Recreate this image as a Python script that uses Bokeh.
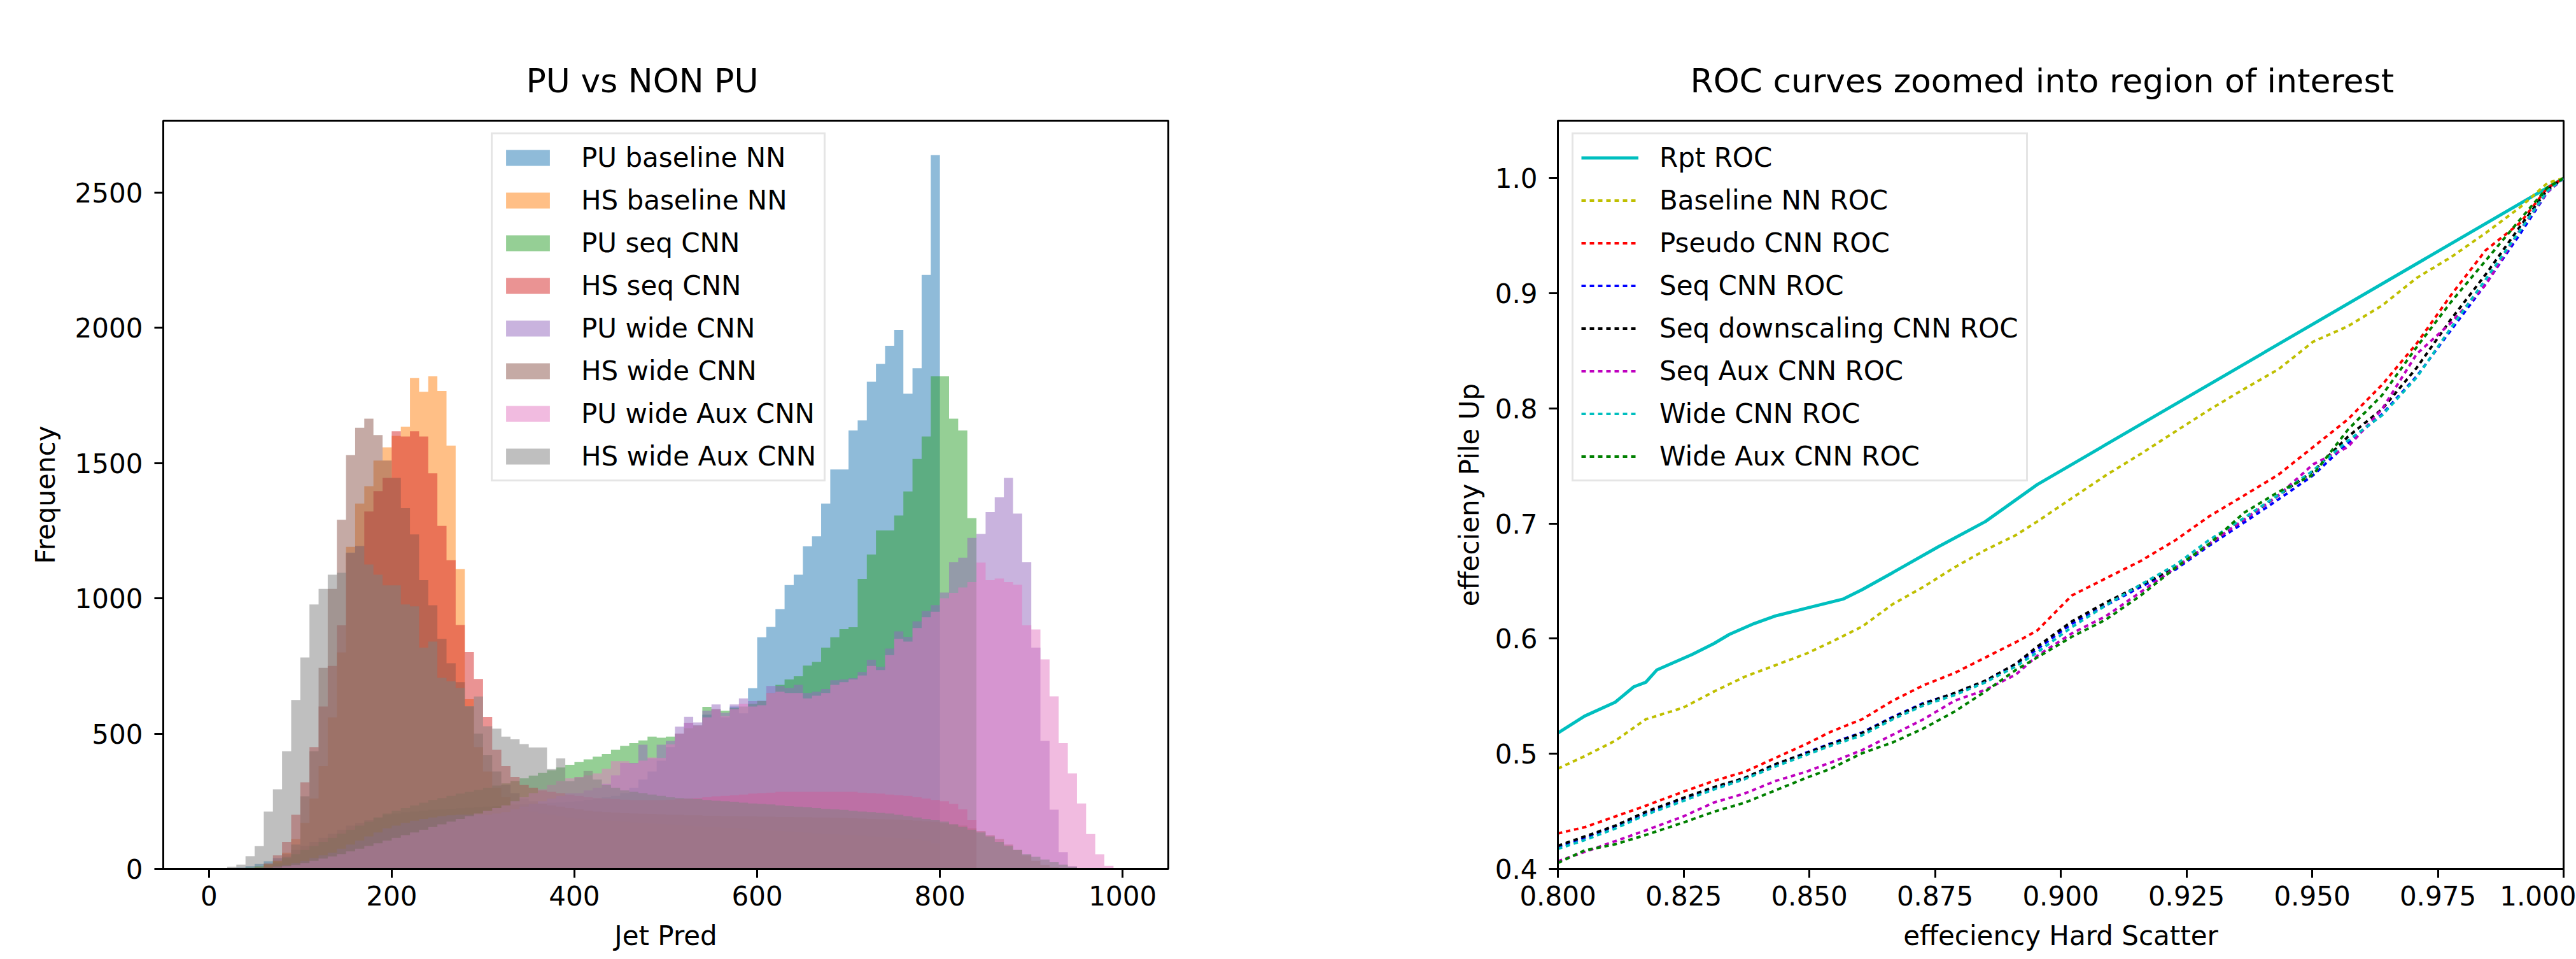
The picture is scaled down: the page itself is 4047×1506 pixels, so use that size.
from bokeh.plotting import figure
from bokeh.layouts import row
from bokeh.models import (Range1d, FixedTicker, NumeralTickFormatter, Legend,
                          LegendItem)
from bokeh.embed import file_html
from bokeh.resources import INLINE

FONT = "DejaVu Sans"

# ---------------- Histogram data (bins of width 10 on 0..1000) ----------------
BIN_EDGES = list(range(0, 1010, 10))
HIST_LABELS = ["PU baseline NN", "HS baseline NN", "PU seq CNN", "HS seq CNN",
               "PU wide CNN", "HS wide CNN", "PU wide Aux CNN", "HS wide Aux CNN"]
HIST_COLORS = ["#1f77b4", "#ff7f0e", "#2ca02c", "#d62728",
               "#9467bd", "#8c564b", "#e377c2", "#7f7f7f"]

pu_baseline_nn = [0, 0, 2, 5, 10, 18, 28, 40, 55, 70,
                  85, 100, 115, 130, 145, 160, 170, 180, 190, 200,
                  205, 210, 212, 215, 218, 220, 222, 224, 226, 228,
                  230, 232, 234, 236, 238, 240, 242, 244, 246, 248,
                  250, 255, 260, 265, 270, 280, 300, 330, 360, 400,
                  450, 500, 540, 530, 570, 590, 560, 600, 575, 668,
                  856, 894, 960, 1049, 1087, 1192, 1229, 1350, 1476, 1476,
                  1620, 1657, 1800, 1866, 1933, 1992, 1756, 1850, 2195, 2638,
                  0, 0, 0, 0, 0, 0, 0, 0, 0, 0,
                  0, 0, 0, 0, 0, 0, 0, 0, 0, 0]
hs_baseline_nn = [0, 0, 0, 0, 0, 5, 15, 30, 60, 110,
                  170, 260, 380, 560, 800, 1190, 1350, 1414, 1509, 1558,
                  1600, 1634, 1814, 1763, 1820, 1766, 1564, 1108, 627, 450,
                  360, 300, 265, 240, 225, 212, 205, 200, 195, 190,
                  186, 183, 180, 178, 176, 174, 172, 170, 168, 166,
                  164, 162, 160, 158, 156, 154, 152, 150, 148, 146,
                  144, 142, 140, 138, 136, 134, 132, 130, 128, 126,
                  124, 122, 120, 118, 116, 114, 112, 110, 105, 95,
                  0, 0, 0, 0, 0, 0, 0, 0, 0, 0,
                  0, 0, 0, 0, 0, 0, 0, 0, 0, 0]
pu_seq_cnn = [0, 0, 0, 2, 5, 10, 18, 28, 40, 55,
              70, 85, 100, 115, 130, 145, 160, 175, 190, 205,
              215, 225, 235, 245, 255, 262, 270, 278, 285, 292,
              300, 308, 316, 325, 335, 345, 355, 365, 375, 385,
              395, 405, 415, 425, 440, 455, 465, 475, 489, 485,
              489, 500, 520, 530, 599, 590, 585, 595, 600, 610,
              620, 650, 680, 700, 712, 751, 765, 818, 856, 886,
              893, 1072, 1162, 1251, 1251, 1306, 1395, 1515, 1598, 1820,
              1820, 1664, 1620, 1296, 0, 0, 0, 0, 0, 0,
              0, 0, 0, 0, 0, 0, 0, 0, 0, 0]
hs_seq_cnn = [0, 0, 0, 0, 0, 5, 20, 50, 100, 200,
              320, 450, 600, 750, 900, 1168, 1193, 1321, 1396, 1445,
              1617, 1598, 1617, 1598, 1462, 1268, 1141, 901, 801, 702,
              561, 440, 380, 340, 310, 300, 290, 285, 280, 275,
              270, 265, 262, 260, 258, 256, 255, 255, 255, 255,
              256, 258, 260, 262, 265, 268, 270, 272, 275, 278,
              280, 282, 285, 285, 285, 285, 285, 285, 285, 285,
              285, 282, 280, 278, 275, 272, 270, 265, 260, 255,
              250, 240, 220, 180, 0, 0, 0, 0, 0, 0,
              0, 0, 0, 0, 0, 0, 0, 0, 0, 0]
pu_wide_cnn = [0, 0, 0, 0, 0, 2, 5, 10, 15, 22,
               30, 40, 50, 60, 75, 90, 105, 120, 135, 150,
               160, 170, 178, 185, 190, 195, 198, 200, 200, 200,
               200, 205, 210, 220, 230, 240, 250, 260, 270, 280,
               280, 290, 300, 315, 346, 392, 392, 459, 408, 459,
               473, 526, 562, 541, 585, 608, 577, 608, 630, 620,
               622, 676, 676, 669, 680, 650, 655, 665, 697, 700,
               705, 728, 773, 747, 814, 878, 857, 915, 953, 975,
               1021, 1133, 1150, 1223, 1238, 1319, 1373, 1445, 1313, 1133,
               818, 473, 219, 62, 10, 0, 0, 0, 0, 0]
hs_wide_cnn = [0, 0, 0, 0, 0, 2, 8, 20, 45, 90,
               268, 435, 743, 1035, 1290, 1529, 1630, 1664, 1603, 1509,
               1445, 1333, 1236, 1067, 974, 850, 760, 690, 600, 500,
               420, 360, 310, 280, 260, 250, 240, 235, 230, 225,
               220, 215, 212, 210, 208, 206, 205, 204, 203, 202,
               200, 200, 198, 198, 196, 196, 195, 195, 194, 194,
               193, 193, 192, 192, 191, 191, 190, 190, 189, 188,
               187, 186, 185, 184, 183, 182, 180, 178, 176, 174,
               170, 165, 160, 150, 140, 125, 110, 90, 70, 50,
               30, 15, 6, 2, 0, 0, 0, 0, 0, 0]
pu_wide_aux_cnn = [0, 0, 0, 0, 0, 0, 2, 5, 10, 15,
                   22, 30, 38, 46, 55, 65, 75, 85, 95, 105,
                   115, 125, 135, 145, 155, 165, 175, 185, 195, 205,
                   215, 225, 235, 250, 265, 280, 295, 310, 325, 335,
                   340, 346, 353, 370, 398, 398, 390, 400, 412, 410,
                   460, 500, 540, 530, 560, 590, 565, 590, 610, 600,
                   605, 650, 655, 650, 650, 630, 640, 650, 680, 690,
                   700, 715, 750, 735, 790, 850, 840, 890, 930, 950,
                   1000, 1020, 1040, 1060, 1132, 1067, 1073, 1060, 1050, 900,
                   885, 774, 638, 465, 353, 242, 129, 54, 11, 0]
hs_wide_aux_cnn = [0, 0, 8, 16, 47, 84, 212, 294, 435, 624,
                   781, 977, 1035, 1087, 1094, 1169, 1193, 1125, 1087, 1048,
                   1048, 977, 970, 818, 840, 706, 693, 669, 601, 637,
                   527, 518, 489, 479, 461, 449, 449, 369, 408, 324,
                   339, 362, 330, 310, 300, 290, 285, 280, 275, 270,
                   265, 262, 260, 258, 255, 252, 250, 248, 245, 242,
                   240, 238, 235, 232, 230, 228, 225, 222, 220, 218,
                   215, 212, 210, 207, 205, 200, 195, 190, 185, 180,
                   175, 165, 155, 145, 135, 120, 100, 85, 70, 55,
                   45, 35, 25, 16, 8, 3, 0, 0, 0, 0]
HIST_SERIES = [pu_baseline_nn, hs_baseline_nn, pu_seq_cnn, hs_seq_cnn,
               pu_wide_cnn, hs_wide_cnn, pu_wide_aux_cnn, hs_wide_aux_cnn]

# ---------------- ROC data ----------------
rpt_x = [0.800, 0.8053, 0.8114, 0.8151, 0.8175, 0.8197, 0.8267, 0.831, 0.8341,
         0.839, 0.8433, 0.8494, 0.8568, 0.8605, 0.8666, 0.8758, 0.885, 0.8953, 1.0]
rpt_y = [0.518, 0.5327, 0.5448, 0.5582, 0.5622, 0.5729, 0.5863, 0.5957, 0.6037,
         0.6131, 0.6198, 0.6265, 0.6345, 0.6426, 0.6574, 0.6802, 0.7017, 0.7338, 1.0]

roc_x = [0.800, 0.8053, 0.8114, 0.8175, 0.8249, 0.8310, 0.8372, 0.8433, 0.8494,
         0.8543, 0.8605, 0.8666, 0.8727, 0.8789, 0.8850, 0.8911, 0.8953, 0.9022,
         0.9090, 0.9159, 0.9228, 0.9296, 0.9365, 0.9433, 0.9502, 0.9571, 0.9639,
         0.9708, 0.9776, 0.9845, 0.9914, 0.9968, 1.0]
baseline_nn_y = [0.4871, 0.4979, 0.5113, 0.5300, 0.5400, 0.5540, 0.5670, 0.5770, 0.5870,
                 0.5970, 0.6105, 0.6300, 0.6450, 0.6620, 0.6770, 0.6900, 0.7017, 0.7220,
                 0.7420, 0.7605, 0.7800, 0.7990, 0.8170, 0.8340, 0.8580, 0.8714, 0.8894,
                 0.9134, 0.9314, 0.9524, 0.9749, 0.9959, 1.0]
pseudo_cnn_y = [0.4308, 0.4362, 0.4455, 0.4549, 0.4670, 0.4764, 0.4844, 0.4965, 0.5085,
                0.5192, 0.5300, 0.5461, 0.5595, 0.5702, 0.5836, 0.5970, 0.6070, 0.6375,
                0.6525, 0.6675, 0.6855, 0.7065, 0.7245, 0.7425, 0.7665, 0.7905, 0.8205,
                0.8565, 0.8984, 0.9374, 0.9614, 0.9917, 1.0]
seq_cnn_y = [0.4187, 0.4270, 0.4370, 0.4480, 0.4610, 0.4700, 0.4790, 0.4905, 0.5010,
             0.5090, 0.5185, 0.5320, 0.5440, 0.5525, 0.5630, 0.5780, 0.5910, 0.6130,
             0.6290, 0.6450, 0.6600, 0.6810, 0.7010, 0.7210, 0.7420, 0.7700, 0.7950,
             0.8280, 0.8680, 0.9080, 0.9520, 0.9880, 1.0]
seq_down_cnn_y = [0.4201, 0.4281, 0.4375, 0.4496, 0.4616, 0.4710, 0.4791, 0.4911, 0.5005,
                  0.5085, 0.5180, 0.5314, 0.5434, 0.5528, 0.5635, 0.5782, 0.5930, 0.6150,
                  0.6315, 0.6465, 0.6615, 0.6825, 0.7035, 0.7245, 0.7455, 0.7754, 0.7994,
                  0.8354, 0.8774, 0.9164, 0.9584, 0.9900, 1.0]
seq_aux_cnn_y = [0.4066, 0.4147, 0.4241, 0.4335, 0.4455, 0.4576, 0.4656, 0.4764, 0.4844,
                 0.4925, 0.5032, 0.5166, 0.5300, 0.5461, 0.5555, 0.5689, 0.5850, 0.6046,
                 0.6196, 0.6405, 0.6615, 0.6825, 0.7035, 0.7245, 0.7515, 0.7665, 0.7994,
                 0.8474, 0.8744, 0.9074, 0.9554, 0.9880, 1.0]
wide_cnn_y = [0.4174, 0.4250, 0.4350, 0.4470, 0.4590, 0.4690, 0.4780, 0.4890, 0.4990,
              0.5070, 0.5160, 0.5300, 0.5420, 0.5510, 0.5620, 0.5760, 0.5880, 0.6100,
              0.6290, 0.6470, 0.6640, 0.6860, 0.7050, 0.7250, 0.7460, 0.7720, 0.7940,
              0.8270, 0.8700, 0.9120, 0.9550, 0.9890, 1.0]
wide_aux_cnn_y = [0.4052, 0.4160, 0.4214, 0.4295, 0.4402, 0.4496, 0.4576, 0.4683, 0.4791,
                  0.4871, 0.5005, 0.5099, 0.5220, 0.5367, 0.5541, 0.5729, 0.5836, 0.6016,
                  0.6166, 0.6375, 0.6615, 0.6825, 0.7095, 0.7275, 0.7425, 0.7815, 0.8115,
                  0.8534, 0.8924, 0.9284, 0.9644, 0.9920, 1.0]
ROC_LABELS = ["Baseline NN ROC", "Pseudo CNN ROC", "Seq CNN ROC",
              "Seq downscaling CNN ROC", "Seq Aux CNN ROC", "Wide CNN ROC",
              "Wide Aux CNN ROC"]
ROC_COLORS = ["#bfbf00", "#ff0000", "#0000ff", "#000000", "#bf00bf", "#00bfbf", "#008000"]
ROC_SERIES = [baseline_nn_y, pseudo_cnn_y, seq_cnn_y, seq_down_cnn_y,
              seq_aux_cnn_y, wide_cnn_y, wide_aux_cnn_y]


def style(p, title, title_offset):
    p.grid.visible = False
    p.outline_line_color = "black"
    p.outline_line_width = 3
    p.outline_line_alpha = 1.0
    p.background_fill_color = "white"
    p.border_fill_color = "white"
    p.title.text = title
    p.title.align = "left"
    p.title.offset = title_offset
    p.title.standoff = 66
    p.title.text_font = FONT
    p.title.text_font_size = "52px"
    p.title.text_font_style = "normal"
    p.title.text_color = "black"
    for ax in p.axis:
        ax.axis_line_color = "black"
        ax.axis_line_width = 3
        ax.major_tick_line_color = "black"
        ax.major_tick_line_width = 3
        ax.major_tick_out = 14
        ax.major_tick_in = 0
        ax.minor_tick_out = 0
        ax.minor_tick_in = 0
        ax.major_label_text_font = FONT
        ax.major_label_text_font_size = "42px"
        ax.major_label_text_color = "black"
        ax.axis_label_text_font = FONT
        ax.axis_label_text_font_size = "42px"
        ax.axis_label_text_font_style = "normal"
        ax.axis_label_text_color = "black"
    p.xaxis.major_label_standoff = 12
    p.yaxis.major_label_standoff = 18
    p.xaxis.axis_label_text_line_height = 0.6
    p.xaxis.axis_label_standoff = 20


def style_legend(leg):
    leg.label_text_font = FONT
    leg.label_text_font_size = "42px"
    leg.label_text_color = "black"
    leg.padding = 12
    leg.spacing = 18
    leg.margin = 0
    leg.border_line_color = "#cccccc"
    leg.border_line_width = 3
    leg.background_fill_color = "white"
    leg.background_fill_alpha = 0.8


# ---------------- Left: histograms ----------------
p1 = figure(width=2008, height=1498, output_backend="svg", toolbar_location=None,
            x_range=Range1d(-50, 1050), y_range=Range1d(0, 2765),
            min_border_left=256, min_border_right=173,
            min_border_top=189, min_border_bottom=134)
hist_items = []
for vals, col, lab in zip(HIST_SERIES, HIST_COLORS, HIST_LABELS):
    r = p1.varea_step(x=BIN_EDGES, y1=[0] * len(BIN_EDGES), y2=vals + [0],
                      step_mode="after", fill_color=col, fill_alpha=0.5)
    hist_items.append(LegendItem(label=lab, renderers=[r]))
style(p1, "PU vs NON PU", 570)
p1.xaxis.ticker = FixedTicker(ticks=[0, 200, 400, 600, 800, 1000])
p1.yaxis.ticker = FixedTicker(ticks=[0, 500, 1000, 1500, 2000, 2500])
p1.xaxis.axis_label = "Jet Pred"
p1.yaxis.axis_label = "Frequency"
p1.yaxis.axis_label_standoff = 19
leg1 = Legend(items=hist_items, location=(515, 608))
style_legend(leg1)
leg1.glyph_width = 86
leg1.glyph_height = 31
leg1.label_standoff = 41
p1.add_layout(leg1)

# ---------------- Right: ROC curves ----------------
p2 = figure(width=2039, height=1498, output_backend="svg", toolbar_location=None,
            x_range=Range1d(0.8, 1.0), y_range=Range1d(0.4, 1.05),
            min_border_left=439, min_border_right=20,
            min_border_top=189, min_border_bottom=134)
roc_items = []
r0 = p2.line(rpt_x, rpt_y, line_color="#00bfbf", line_width=5)
roc_items.append(LegendItem(label="Rpt ROC", renderers=[r0]))
for ys, col, lab in zip(ROC_SERIES, ROC_COLORS, ROC_LABELS):
    r = p2.line(roc_x, ys, line_color=col, line_width=4, line_dash="7 6")
    roc_items.append(LegendItem(label=lab, renderers=[r]))
style(p2, "ROC curves zoomed into region of interest", 208)
p2.xaxis.ticker = FixedTicker(ticks=[0.8, 0.825, 0.85, 0.875, 0.9, 0.925, 0.95, 0.975, 1.0])
p2.yaxis.ticker = FixedTicker(ticks=[0.4, 0.5, 0.6, 0.7, 0.8, 0.9, 1.0])
p2.xaxis.formatter = NumeralTickFormatter(format="0.000")
p2.yaxis.formatter = NumeralTickFormatter(format="0.0")
p2.xaxis.axis_label = "effeciency Hard Scatter"
p2.yaxis.axis_label = "effecieny Pile Up"
p2.yaxis.axis_label_standoff = 13
leg2 = Legend(items=roc_items, location=(22, 608))
style_legend(leg2)
leg2.glyph_width = 90
leg2.glyph_height = 31
leg2.label_standoff = 33
p2.add_layout(leg2)

layout = row(p1, p2)
open("out.html", "w").write(file_html(layout, INLINE))
